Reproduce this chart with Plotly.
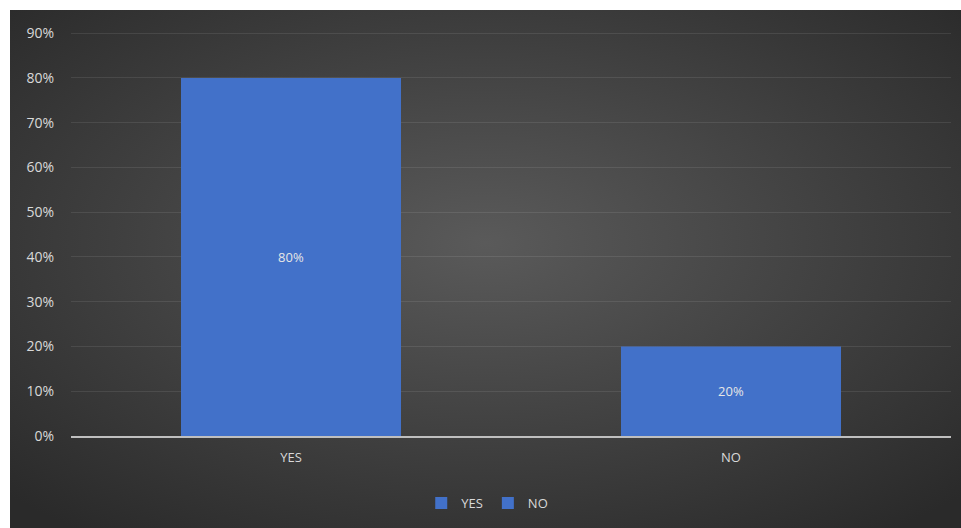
import plotly.graph_objects as go

categories = ["YES", "NO"]
values = [80, 20]
tick_vals = [0, 10, 20, 30, 40, 50, 60, 70, 80, 90]
tick_text = ["0%", "10%", "20%", "30%", "40%", "50%", "60%", "70%", "80%", "90%"]

W, H = 961, 528
ML, MR, MT, MB = 71, 10, 30, 92
pw, ph = W - ML - MR, H - MT - MB

# dark radial backdrop for the chart area
bg_svg = (
    "data:image/svg+xml;utf8,"
    "<svg xmlns='http://www.w3.org/2000/svg' width='951' height='518'>"
    "<defs><radialGradient id='g' cx='50%' cy='45%' r='70%'>"
    "<stop offset='0%' stop-color='%235a5a5a'/>"
    "<stop offset='100%' stop-color='%232a2a2a'/>"
    "</radialGradient></defs>"
    "<rect width='951' height='518' fill='url(%23g)'/></svg>"
)

font_color = "#d9d9d9"
bar_color = "#4271c9"

fig = go.Figure()
for cat, val in zip(categories, values):
    fig.add_trace(go.Bar(
        x=[cat], y=[val], name=cat, width=0.5,
        marker=dict(color=bar_color, line=dict(width=0)),
        text=[f"{val}%"], textposition="inside", insidetextanchor="middle",
        textfont=dict(color="#e6e6e6", size=13),
    ))

fig.update_layout(
    width=W, height=H,
    margin=dict(l=ML, r=MR, t=MT, b=MB),
    paper_bgcolor="white",
    plot_bgcolor="rgba(0,0,0,0)",
    barmode="overlay",
    font=dict(family="Open Sans, Noto Sans, sans-serif", size=13, color=font_color),
    showlegend=True,
    legend=dict(orientation="h", x=0.473, xanchor="center", y=-0.165, yanchor="middle",
                font=dict(size=13, color=font_color), itemwidth=30,
                tracegroupgap=0, bgcolor="rgba(0,0,0,0)"),
    images=[dict(
        source=bg_svg, xref="paper", yref="paper",
        x=(10 - ML) / pw, y=1 + (MT - 10) / ph,
        sizex=(W - 10) / pw, sizey=(H - 10) / ph,
        xanchor="left", yanchor="top", sizing="stretch", layer="below",
    )],
)

fig.update_xaxes(
    showgrid=False, showline=True, linecolor="#bfbfbf", linewidth=2,
    tickfont=dict(size=13, color=font_color), ticks="", ticklabelstandoff=8,
)
fig.update_yaxes(
    range=[0, 90.7], tickvals=tick_vals, ticktext=tick_text,
    showgrid=True, gridcolor="rgba(255,255,255,0.09)", gridwidth=1, zeroline=False,
    showline=False, ticks="", tickfont=dict(size=14, color=font_color),
    ticklabelstandoff=16,
)

fig.write_html("out.html")
